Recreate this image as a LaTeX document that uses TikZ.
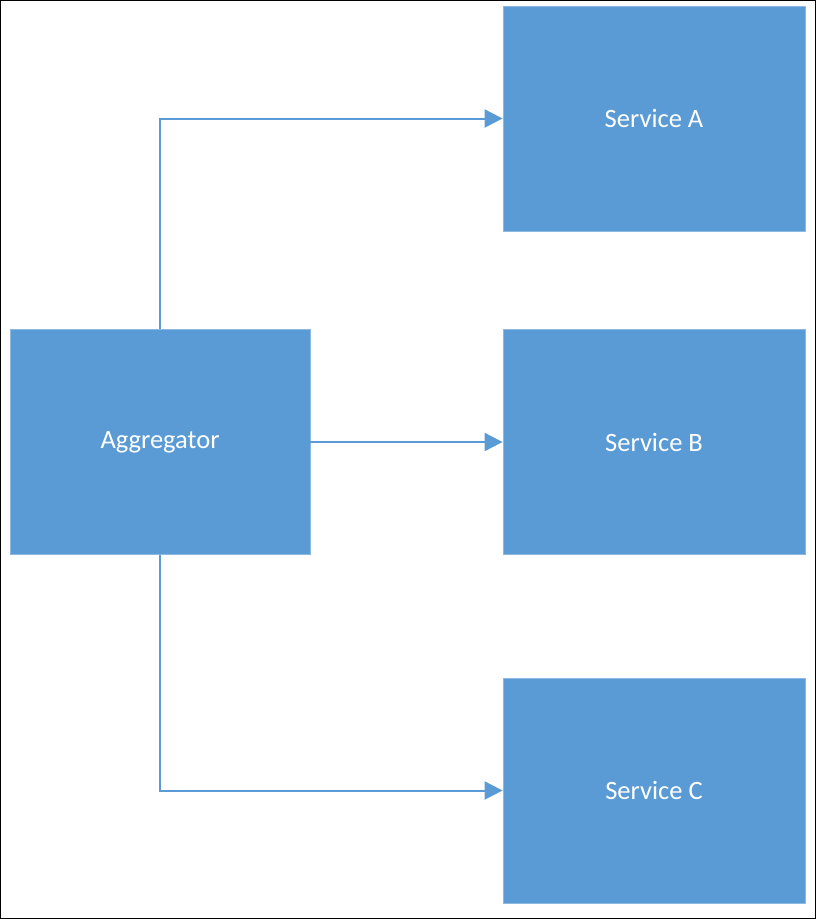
\documentclass[tikz,border=0pt]{standalone}
\usepackage{fontspec}
\setmainfont{Carlito}
\usetikzlibrary{arrows.meta}
\definecolor{boxblue}{HTML}{5B9BD5}
\begin{document}
\begin{tikzpicture}[x=1pt,y=-1pt,
  svc/.style={fill=boxblue, draw=boxblue!70!white, line width=0.8pt, minimum width=302pt, minimum height=225pt, inner sep=0pt, text=white, font=\fontsize{26.5}{30}\selectfont},
  conn/.style={draw=boxblue, line width=2pt, -{Triangle[length=18pt,width=18pt]}}]
\draw[black, line width=1.2pt] (0.6,0.6) rectangle (815.4,918.4);
\useasboundingbox (0,0) rectangle (816,919);
\node[svc] (a) at (654,118.5) {Service A};
\node[svc] (b) at (654,442) {Service B};
\node[svc] (c) at (654,790.5) {Service C};
\node[svc, minimum width=300pt] (g) at (160,442) {Aggregator};
\draw[conn] (g.north) |- (a.west);
\draw[conn] (g.east) -- (b.west);
\draw[conn] (g.south) |- (c.west);
\end{tikzpicture}
\end{document}
